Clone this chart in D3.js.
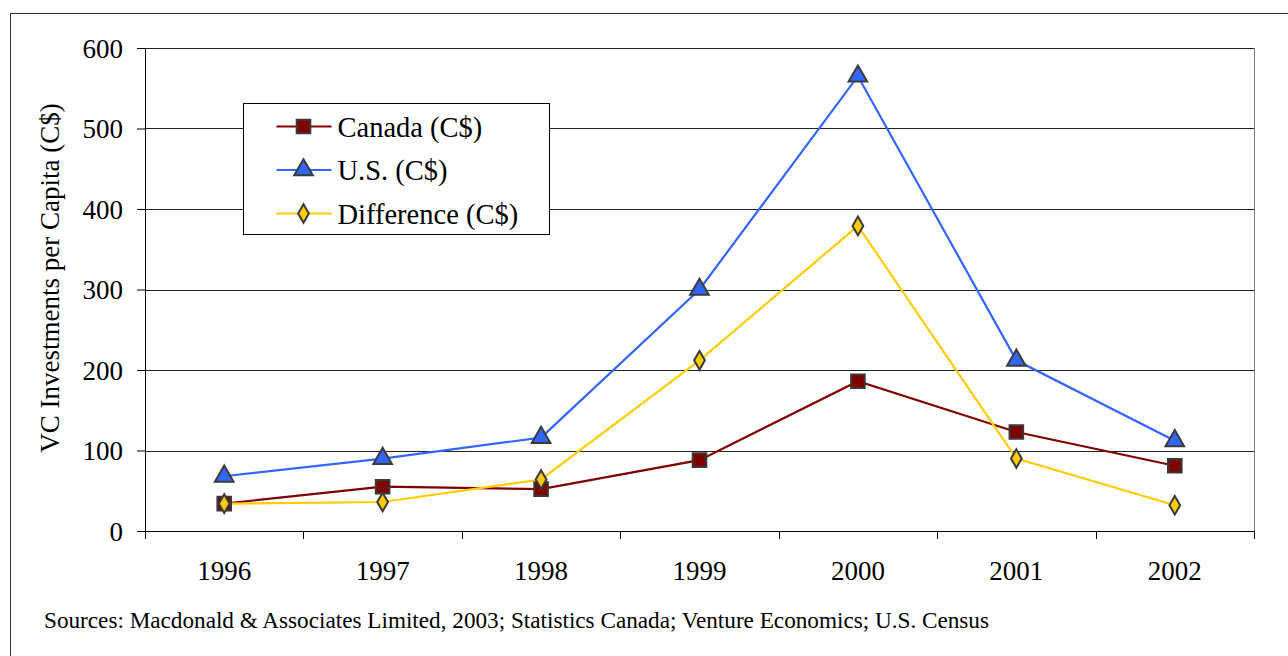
<!DOCTYPE html>
<html>
<head>
<meta charset="utf-8">
<script src="https://cdn.jsdelivr.net/npm/d3@7/dist/d3.min.js"></script>
</head>
<body style="margin:0; background:#fff">
<svg id="chart" style="display:block"></svg>
<script>
// Data
const years = ["1996", "1997", "1998", "1999", "2000", "2001", "2002"];
const canada = [34, 55, 52, 88, 186, 123, 81];
const us = [68, 90, 116, 300, 565, 212, 112];
const difference = [34, 36, 64, 212, 379, 90, 32];
const yTicks = [0, 100, 200, 300, 400, 500, 600];

const width = 1288, height = 656;
const margin = {top: 48, right: 34, bottom: 125, left: 145};
const plotW = width - margin.left - margin.right;
const plotH = height - margin.top - margin.bottom;
const serif = '"Liberation Serif"';

const series = [
  {name: "Canada (C$)", values: canada, color: "#800000", symbol: d3.symbolSquare, size: 185},
  {name: "U.S. (C$)", values: us, color: "#3366FF", symbol: d3.symbolTriangle, size: 150},
  {name: "Difference (C$)", values: difference, color: "#FFCC00", symbol: d3.symbolDiamond, size: 100}
];

const svg = d3.select("#chart").attr("width", width).attr("height", height)
  .style("font-family", serif);

// outer chart border
svg.append("rect")
  .attr("x", 10.5).attr("y", 13.5)
  .attr("width", width).attr("height", height)
  .attr("fill", "none").attr("stroke", "#333").attr("stroke-width", 1);

const g = svg.append("g").attr("transform", `translate(${margin.left},${margin.top})`);

const x = d3.scaleBand().domain(years).range([0, plotW]);
const y = d3.scaleLinear().domain([0, 600]).range([plotH, 0]);

// gridlines
g.append("g")
  .selectAll("line")
  .data(yTicks.filter(d => d > 0))
  .join("line")
  .attr("x1", 0).attr("x2", plotW)
  .attr("y1", d => Math.round(y(d)) + 0.5).attr("y2", d => Math.round(y(d)) + 0.5)
  .attr("stroke", "#222").attr("stroke-width", 1);

// right edge of plot area
g.append("line")
  .attr("x1", plotW + 0.5).attr("x2", plotW + 0.5)
  .attr("y1", 0).attr("y2", plotH)
  .attr("stroke", "#808080");

// y axis
const yAxis = g.append("g")
  .call(d3.axisLeft(y).tickValues(yTicks).tickSize(8).tickPadding(14).tickSizeOuter(0));
yAxis.attr("font-family", null).style("font-family", serif);
yAxis.select(".domain").attr("stroke", "#000");
yAxis.selectAll("text").attr("font-size", 27).attr("dy", "0.34em")
  .attr("fill", "#000").style("font-family", serif);

// x axis (ticks between categories)
const xAxis = g.append("g").attr("transform", `translate(0,${plotH})`);
xAxis.append("line").attr("x1", 0).attr("x2", plotW).attr("y1", 0.5).attr("y2", 0.5).attr("stroke", "#000");
xAxis.selectAll("line.tick")
  .data(years.concat(["end"]))
  .join("line")
  .attr("class", "tick")
  .attr("x1", (d, i) => Math.round(i * x.step()) + 0.5)
  .attr("x2", (d, i) => Math.round(i * x.step()) + 0.5)
  .attr("y1", 0).attr("y2", 8)
  .attr("stroke", "#000");
xAxis.selectAll("text")
  .data(years)
  .join("text")
  .attr("x", d => x(d) + x.bandwidth() / 2)
  .attr("y", 49)
  .attr("text-anchor", "middle")
  .attr("font-size", 27)
  .style("font-family", serif)
  .text(d => d);

// axis title
svg.append("text")
  .attr("transform", `translate(59,${278}) rotate(-90)`)
  .attr("text-anchor", "middle")
  .attr("font-size", 27)
  .style("font-family", serif)
  .text("VC Investments per Capita (C$)");

// lines and markers
const line = d3.line()
  .x((d, i) => x(years[i]) + x.bandwidth() / 2)
  .y(d => y(d));

series.forEach(s => {
  g.append("path")
    .datum(s.values)
    .attr("d", line)
    .attr("fill", "none")
    .attr("stroke", s.color)
    .attr("stroke-width", 2.2);
});

series.forEach(s => {
  g.selectAll(null)
    .data(s.values)
    .join("path")
    .attr("transform", (d, i) => `translate(${x(years[i]) + x.bandwidth() / 2},${y(d)})`)
    .attr("d", d3.symbol().type(s.symbol).size(s.size))
    .attr("fill", s.color)
    .attr("stroke", "#3a3a3a")
    .attr("stroke-width", 2);
});

// legend
const legend = svg.append("g").attr("transform", "translate(243.5,103.5)");
legend.append("rect")
  .attr("width", 306).attr("height", 131)
  .attr("fill", "#fff").attr("stroke", "#000");
series.forEach((s, i) => {
  const row = legend.append("g").attr("transform", `translate(0,${23 + i * 43.5})`);
  row.append("line")
    .attr("x1", 33).attr("x2", 88)
    .attr("stroke", s.color).attr("stroke-width", 2.2);
  row.append("path")
    .attr("transform", "translate(60,0)")
    .attr("d", d3.symbol().type(s.symbol).size(s.size))
    .attr("fill", s.color)
    .attr("stroke", "#3a3a3a")
    .attr("stroke-width", 2);
  row.append("text")
    .attr("x", 94).attr("y", 10)
    .attr("font-size", 28.5)
    .style("font-family", serif)
    .text(s.name);
});

// source note
svg.append("text")
  .attr("x", 44).attr("y", 628)
  .attr("font-size", 23.2)
  .style("font-family", serif)
  .text("Sources: Macdonald & Associates Limited, 2003; Statistics Canada; Venture Economics; U.S. Census");
</script>
</body>
</html>
